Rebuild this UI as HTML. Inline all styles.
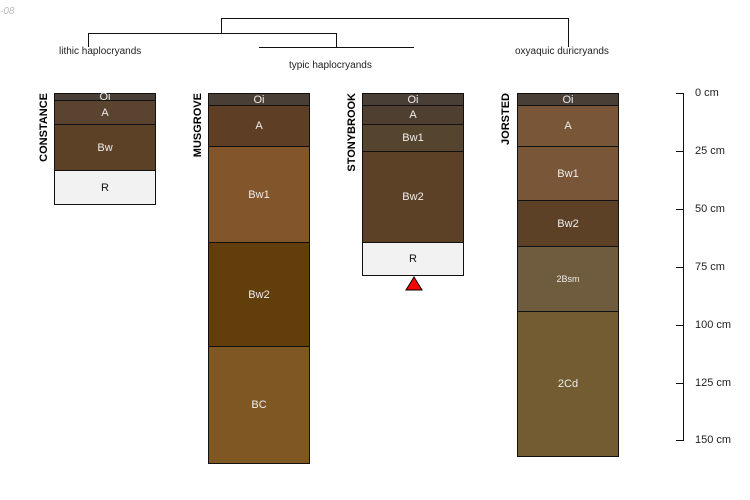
<!DOCTYPE html><html><head><style>
body{margin:0;width:750px;height:500px;background:#fff;position:relative;font-family:"Liberation Sans",sans-serif;overflow:hidden}
.h{position:absolute;border:1px solid #111;box-sizing:border-box;color:#eee;font-size:11px;display:flex;align-items:center;justify-content:center}
.l{position:absolute;background:#111}
.t{position:absolute;font-size:10px;color:#222;white-space:nowrap}
.n{position:absolute;font-size:11px;font-weight:bold;writing-mode:vertical-rl;transform:rotate(180deg);white-space:nowrap;line-height:11px}
.ax{position:absolute;font-size:11px;color:#222;left:695px}
</style></head><body>
<div class="t" style="left:0;top:6px;color:#bbb;font-style:italic">-08</div>
<div class="l" style="left:221px;top:18px;width:348px;height:1px"></div>
<div class="l" style="left:221px;top:18px;width:1px;height:15px"></div>
<div class="l" style="left:568px;top:18px;width:1px;height:29px"></div>
<div class="l" style="left:88px;top:33px;width:249px;height:1px"></div>
<div class="l" style="left:88px;top:33px;width:1px;height:14px"></div>
<div class="l" style="left:336px;top:33px;width:1px;height:14px"></div>
<div class="l" style="left:259px;top:47px;width:155px;height:1px"></div>
<div class="t" style="left:59px;top:46px">lithic haplocryands</div>
<div class="t" style="left:289px;top:60px">typic haplocryands</div>
<div class="t" style="left:515px;top:46px">oxyaquic duricryands</div>

<div class="n" style="left:39px;top:93px">CONSTANCE</div>
<div class="h" style="left:54px;top:93px;width:102px;height:8px;background:#4a3f37">Oi</div>
<div class="h" style="left:54px;top:100px;width:102px;height:25px;background:#5a4430">A</div>
<div class="h" style="left:54px;top:124px;width:102px;height:47px;background:#5c4127">Bw</div>
<div class="h" style="left:54px;top:170px;width:102px;height:35px;background:#f2f2f2;color:#111">R</div>

<div class="n" style="left:193px;top:93px">MUSGROVE</div>
<div class="h" style="left:208px;top:93px;width:102px;height:13px;background:#4a3f37">Oi</div>
<div class="h" style="left:208px;top:105px;width:102px;height:42px;background:#5e3f26">A</div>
<div class="h" style="left:208px;top:146px;width:102px;height:97px;background:#82552b">Bw1</div>
<div class="h" style="left:208px;top:242px;width:102px;height:105px;background:#623f0a">Bw2</div>
<div class="h" style="left:208px;top:346px;width:102px;height:118px;background:#7f5722">BC</div>

<div class="n" style="left:347px;top:93px">STONYBROOK</div>
<div class="h" style="left:362px;top:93px;width:102px;height:13px;background:#4a3f37">Oi</div>
<div class="h" style="left:362px;top:105px;width:102px;height:20px;background:#4f3f30">A</div>
<div class="h" style="left:362px;top:124px;width:102px;height:28px;background:#55442e">Bw1</div>
<div class="h" style="left:362px;top:151px;width:102px;height:92px;background:#5c4127">Bw2</div>
<div class="h" style="left:362px;top:242px;width:102px;height:34px;background:#f2f2f2;color:#111">R</div>
<svg style="position:absolute;left:404px;top:276px" width="20" height="16"><polygon points="10,1 18,14 2,14" fill="#f00" stroke="#000" stroke-width="1"/></svg>

<div class="n" style="left:501px;top:93px">JORSTED</div>
<div class="h" style="left:517px;top:93px;width:102px;height:13px;background:#4a3f37">Oi</div>
<div class="h" style="left:517px;top:105px;width:102px;height:42px;background:#7a5638">A</div>
<div class="h" style="left:517px;top:146px;width:102px;height:55px;background:#7a5638">Bw1</div>
<div class="h" style="left:517px;top:200px;width:102px;height:47px;background:#5c4127">Bw2</div>
<div class="h" style="left:517px;top:246px;width:102px;height:66px;background:#6f5b3d;font-size:9px">2Bsm</div>
<div class="h" style="left:517px;top:311px;width:102px;height:146px;background:#735c32">2Cd</div>

<div class="l" style="left:683px;top:93px;width:1px;height:348px"></div>
<div class="l" style="left:676px;top:93px;width:7px;height:1px"></div><div class="ax" style="top:87px">0 cm</div>
<div class="l" style="left:676px;top:151px;width:7px;height:1px"></div><div class="ax" style="top:145px">25 cm</div>
<div class="l" style="left:676px;top:209px;width:7px;height:1px"></div><div class="ax" style="top:203px">50 cm</div>
<div class="l" style="left:676px;top:267px;width:7px;height:1px"></div><div class="ax" style="top:261px">75 cm</div>
<div class="l" style="left:676px;top:325px;width:7px;height:1px"></div><div class="ax" style="top:319px">100 cm</div>
<div class="l" style="left:676px;top:383px;width:7px;height:1px"></div><div class="ax" style="top:377px">125 cm</div>
<div class="l" style="left:676px;top:440px;width:7px;height:1px"></div><div class="ax" style="top:434px">150 cm</div>
</body></html>
